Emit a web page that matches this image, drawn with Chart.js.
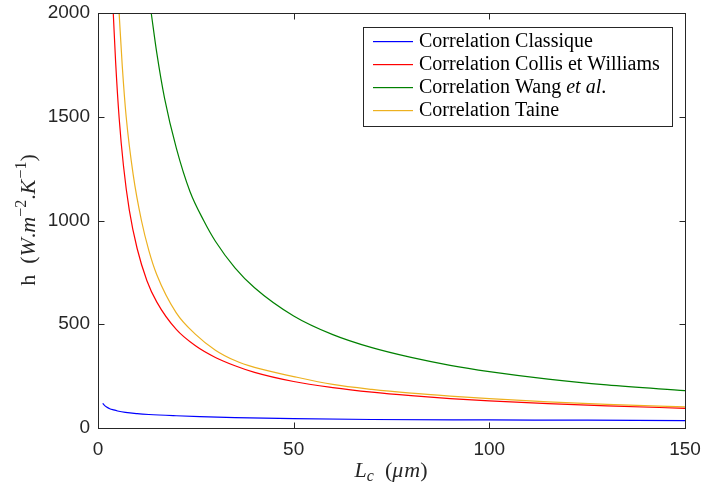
<!DOCTYPE html>
<html>
<head>
<meta charset="utf-8">
<script src="https://cdn.jsdelivr.net/npm/chart.js@4/dist/chart.umd.min.js"></script>
<style>
  html, body { margin: 0; padding: 0; background: #fff; }
</style>
</head>
<body>
<canvas id="c" width="703" height="490"></canvas>
<script>
// values
const lcClassique = [1.2, 1.6, 2.2, 3, 4, 5, 7, 10, 13, 20, 26, 35, 50, 70, 100, 125, 150];
const hClassique  = [119, 110, 101, 93, 87, 82, 75, 69, 65, 59, 55, 50, 45, 41, 39, 37.5, 36];

const lcCollis = [3.9, 4.5, 5.4, 6.5, 8, 10, 12.5, 15, 20, 25, 30, 35, 40, 50, 60, 70, 80, 90, 100, 115, 130, 150];
const hCollis  = [2000, 1765, 1495, 1265, 1050, 865, 710, 608, 475, 395, 340, 300, 268, 224, 195, 173, 156, 142, 131, 117, 107, 95];

const lcWang = [13.6, 15, 17, 20, 23.5, 27, 30, 35, 40, 50, 60, 70, 80, 90, 100, 115, 130, 150];
const hWang  = [2000, 1810, 1590, 1350, 1140, 1000, 900, 772, 676, 540, 450, 387, 340, 302, 272, 236, 208, 180];

const lcTaine = [5.4, 6.2, 7.2, 9, 11.1, 13, 15, 20, 25, 30, 35, 40, 50, 60, 70, 80, 90, 100, 115, 130, 150];
const hTaine  = [2000, 1745, 1500, 1220, 1000, 855, 740, 555, 450, 375, 325, 292, 248, 210, 186, 168, 154, 142, 126, 114, 102];

const seriesLabels = ['Correlation Classique', 'Correlation Collis et Williams', 'Correlation Wang et al.', 'Correlation Taine'];
const seriesColors = ['#0000ff', '#ff0000', '#008000', '#edb120'];

const xTicks = [0, 50, 100, 150];
const yTicks = [0, 500, 1000, 1500, 2000];

const AXIS = '#262626';
const SERIF = '"Liberation Serif", "DejaVu Serif", serif';
const SANS = '"Liberation Sans", Arial, sans-serif';

function pts(xs, ys) {
    return xs.map((x, i) => ({ x: x, y: ys[i] }));
}

// draws a list of text runs one after another, centred on cx
function drawRuns(ctx, runs, cx, baseY) {
    let total = 0;
    for (const r of runs) {
        ctx.font = (r.italic ? 'italic ' : '') + r.size + 'px ' + SERIF;
        r.w = ctx.measureText(r.t).width + (r.gap || 0);
        total += r.w;
    }
    let x = cx - total / 2;
    ctx.textAlign = 'left';
    ctx.textBaseline = 'alphabetic';
    for (const r of runs) {
        ctx.font = (r.italic ? 'italic ' : '') + r.size + 'px ' + SERIF;
        ctx.fillText(r.t, x, baseY + (r.dy || 0));
        x += r.w;
    }
}

const framePlugin = {
    id: 'frame',
    afterDatasetsDraw(chart) {
        const ctx = chart.ctx;
        const a = chart.chartArea;
        const xs = chart.scales.x, ys = chart.scales.y;
        const L = Math.round(a.left) + 0.5, R = Math.round(a.right) + 0.5;
        const T = Math.round(a.top) + 0.5, B = Math.round(a.bottom) + 0.5;
        ctx.save();
        ctx.strokeStyle = AXIS;
        ctx.lineWidth = 1;
        ctx.strokeRect(L, T, R - L, B - T);
        const tl = 6;
        ctx.beginPath();
        for (const v of xTicks) {
            const px = Math.round(xs.getPixelForValue(v)) + 0.5;
            ctx.moveTo(px, B); ctx.lineTo(px, B - tl);
            ctx.moveTo(px, T); ctx.lineTo(px, T + tl);
        }
        for (const v of yTicks) {
            const py = Math.round(ys.getPixelForValue(v)) + 0.5;
            ctx.moveTo(L, py); ctx.lineTo(L + tl, py);
            ctx.moveTo(R, py); ctx.lineTo(R - tl, py);
        }
        ctx.stroke();

        // legend box
        const bx = 363.5, by = 27.5, bw = 309, bh = 99;
        ctx.fillStyle = '#fff';
        ctx.fillRect(bx, by, bw, bh);
        ctx.strokeStyle = AXIS;
        ctx.strokeRect(bx, by, bw, bh);
        const rows = [41, 64, 87, 110];
        ctx.textBaseline = 'middle';
        ctx.textAlign = 'left';
        seriesLabels.forEach((label, i) => {
            const y = rows[i];
            ctx.fillStyle = seriesColors[i];
            ctx.fillRect(373, y, 40, 1.2);
            ctx.fillStyle = '#000';
            let x = 419;
            let parts = [{ t: label, italic: false }];
            if (label.endsWith('et al.')) {
                parts = [
                    { t: label.slice(0, -6), italic: false },
                    { t: 'et al', italic: true },
                    { t: '.', italic: false }
                ];
            }
            for (const p of parts) {
                ctx.font = (p.italic ? 'italic ' : '') + '20px ' + SERIF;
                ctx.fillText(p.t, x, y + 1);
                x += ctx.measureText(p.t).width;
            }
        });

        // axis titles
        ctx.fillStyle = AXIS;
        drawRuns(ctx, [
            { t: 'L', italic: true, size: 22 },
            { t: 'c', italic: true, size: 16, dy: 4 },
            { t: '  (', italic: false, size: 22 },
            { t: 'μ', italic: true, size: 22, gap: 1 },
            { t: 'm', italic: true, size: 22 },
            { t: ')', italic: false, size: 22 }
        ], 391, 477);

        ctx.save();
        ctx.translate(35, 220);
        ctx.rotate(-Math.PI / 2);
        drawRuns(ctx, [
            { t: 'h  (', italic: false, size: 22 },
            { t: 'W', italic: true, size: 22 },
            { t: '.', italic: false, size: 22 },
            { t: 'm', italic: true, size: 22 },
            { t: '−2', italic: false, size: 16, dy: -9 },
            { t: '.', italic: false, size: 22 },
            { t: 'K', italic: true, size: 22, gap: 1 },
            { t: '−1', italic: false, size: 16, dy: -9 },
            { t: ')', italic: false, size: 22 }
        ], 0, 0);
        ctx.restore();
        ctx.restore();
    }
};

const datasets = [
    [lcClassique, hClassique],
    [lcCollis, hCollis],
    [lcWang, hWang],
    [lcTaine, hTaine]
].map(([xs, ys], i) => ({
    label: seriesLabels[i],
    data: pts(xs, ys),
    borderColor: seriesColors[i],
    backgroundColor: seriesColors[i],
    borderWidth: 1.2,
    pointRadius: 0,
    fill: false,
    cubicInterpolationMode: 'monotone'
}));

new Chart(document.getElementById('c').getContext('2d'), {
    type: 'line',
    data: { datasets: datasets },
    options: {
        responsive: false,
        animation: false,
        devicePixelRatio: 1,
        layout: { padding: { top: 13, right: 18, left: 0, bottom: 0 } },
        plugins: {
            legend: { display: false },
            tooltip: { enabled: false }
        },
        scales: {
            x: {
                type: 'linear',
                min: 0,
                max: 150,
                afterFit: s => {
                    s.height = 62;
                    s.paddingLeft = 0; s.paddingRight = 0;
                },
                afterBuildTicks: s => { s.ticks = xTicks.map(v => ({ value: v })); },
                grid: { display: false, drawTicks: false },
                border: { display: false },
                ticks: {
                    padding: 10,
                    color: AXIS,
                    callback: v => String(v),
                    font: { family: SANS, size: 19 }
                }
            },
            y: {
                type: 'linear',
                min: 0,
                max: 2000,
                afterFit: s => {
                    s.width = 98;
                    s.paddingTop = 0; s.paddingBottom = 0;
                },
                afterBuildTicks: s => { s.ticks = yTicks.map(v => ({ value: v })); },
                grid: { display: false, drawTicks: false },
                border: { display: false },
                ticks: {
                    padding: 8,
                    color: AXIS,
                    callback: v => String(v),
                    font: { family: SANS, size: 19 }
                }
            }
        }
    },
    plugins: [framePlugin]
});
</script>
</body>
</html>
